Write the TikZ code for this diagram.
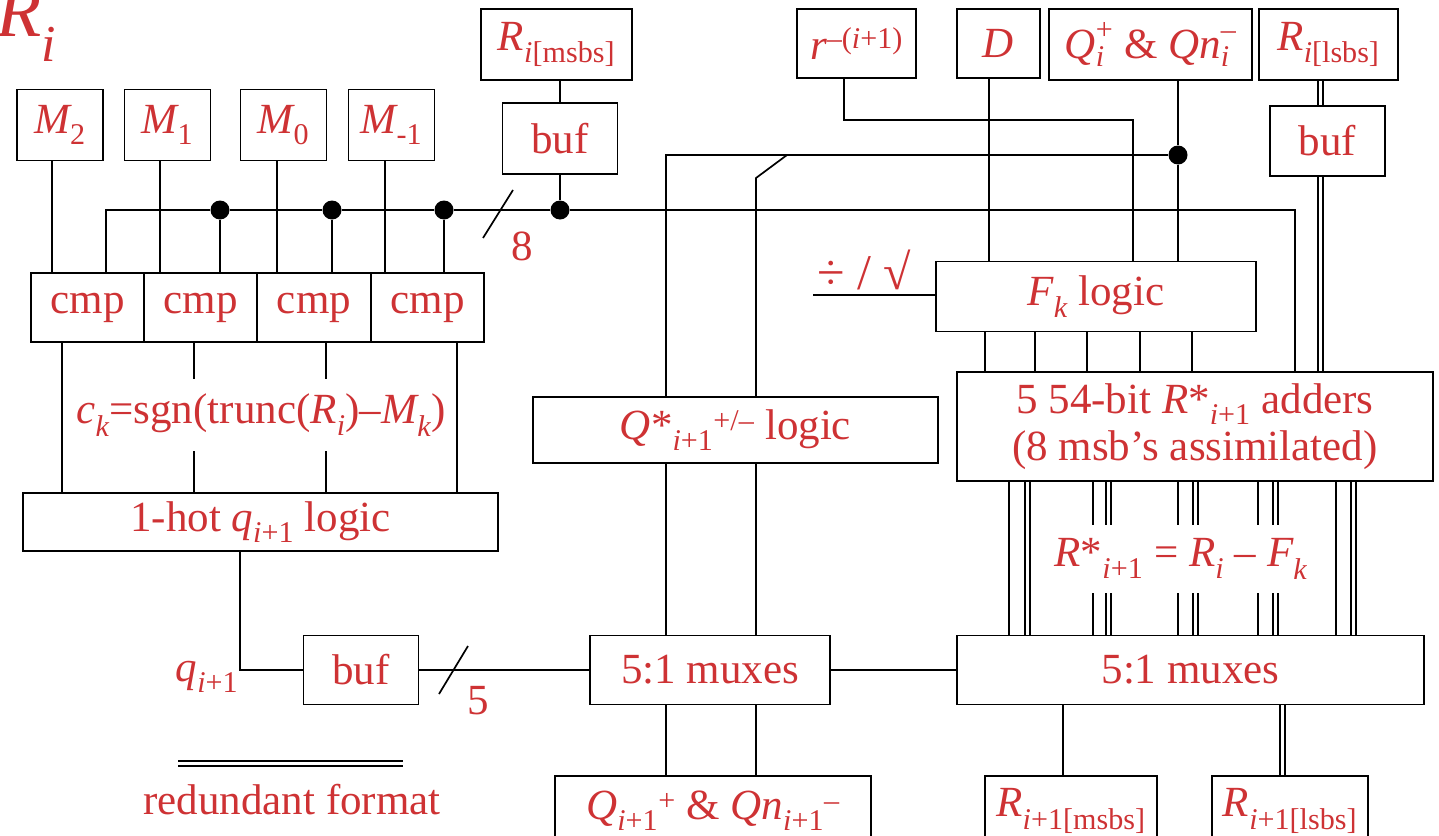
\documentclass[tikz,border=0pt]{standalone}
\usepackage{amsmath}
\usepackage{fontspec}
\setmainfont{Liberation Serif}
\usepackage{xcolor}
\usepackage{tikz}
\usetikzlibrary{positioning, calc}
\definecolor{txtred}{RGB}{206,50,52}
\newcommand{\bigf}{\fontsize{43}{47}\selectfont}
\newcommand{\mv}[1]{\text{\itshape #1}}
\newcommand{\mt}[1]{\text{#1}}

\begin{document}
\begin{tikzpicture}[
    x=1pt, y=-1pt,
    blk/.style={rectangle, draw, line width=1.7pt, text=txtred, font=\bigf, inner sep=0pt, align=center},
    sz/.style 2 args={minimum width=#1pt, minimum height=#2pt},
    lbl/.style={text=txtred, font=\bigf, inner sep=0pt, align=center},
    junc/.style={circle, fill=black, minimum size=19pt, inner sep=0pt},
    wire/.style={line width=1.7pt},
    redund/.style={line width=2pt, double, double distance=3pt}
]
\useasboundingbox (0,0) rectangle (1439,835);
\clip (0,0) rectangle (1439,835);

% inputs
\node[lbl, font=\fontsize{74}{80}\selectfont, anchor=base west] (Ri) at (-4,36) {$\mv{R}_{\mv{i}}$};
\node[blk, sz={86}{71}] (M2) at (60,125) {$\mv{M}_{\mt{2}}$};
\node[blk, sz={86}{71}] (M1) at (167.5,125) {$\mv{M}_{\mt{1}}$};
\node[blk, sz={86}{71}] (M0) at (283.5,125) {$\mv{M}_{\mt{0}}$};
\node[blk, sz={86}{71}] (Mm1) at (391.5,125) {$\mv{M}_{\mt{-1}}$};
\node[blk, sz={151}{71}] (Rmsbs) at (556.5,44.5) {$\mv{R}_{\mv{i}\mt{[msbs]}}$};
\node[blk, sz={115}{71}] (buftop) at (560,138.5) {buf};
\node[blk, sz={119}{69}] (rinv) at (856.5,43.5) {$\mv{r}^{\mt{–(}\mv{i}\mt{+1)}}$};
\node[blk, sz={83}{69}] (D) at (998.5,43.5) {\textit{D}};
\node[blk, sz={203}{71}] (Qin) at (1150.5,44.5) {$\mv{Q}_{\mv{i}}^{\mt{+}}$ \& $\mv{Qn}_{\mv{i}}^{\mt{–}}$};
\node[blk, sz={139}{71}] (Rlsbs) at (1328.5,44.5) {$\mv{R}_{\mv{i}\mt{[lsbs]}}$};
\node[blk, sz={115}{70}] (bufr) at (1327.5,141) {buf};

% quotient selection
\node[blk, sz={113}{69}] (cmp1) at (87.5,307.5) {cmp};
\node[blk, sz={113}{69}] (cmp2) at (200.5,307.5) {cmp};
\node[blk, sz={114}{69}] (cmp3) at (314,307.5) {cmp};
\node[blk, sz={113}{69}] (cmp4) at (427.5,307.5) {cmp};
\node[blk, sz={475}{58}] (onehot) at (260.5,522) {1-hot $\mv{q}_{\mv{i}\mt{+1}}$ logic};
\node[blk, sz={115}{69}] (bufb) at (361,670) {buf};

% datapath
\node[blk, sz={405}{66}] (Qstar) at (735.5,430) {$\mv{Q}\mt{*}_{\mv{i}\mt{+1}}{}^{\mt{+/–}}$ logic};
\node[blk, sz={320}{70}] (Fk) at (1096,296.5) {$\mv{F}_{\mv{k}}$ logic};
\node[blk, sz={476}{109}] (adders) at (1195,426.5) {5 54-bit $\mv{R}\mt{*}_{\mv{i}\mt{+1}}$ adders\\(8 msb’s assimilated)};
\node[blk, sz={240}{69}] (muxm) at (710,670) {5:1 muxes};
\node[blk, sz={467}{69}] (muxr) at (1190.5,670) {5:1 muxes};
\node[blk, sz={316}{70}] (Qout) at (713,811) {$\mv{Q}_{\mv{i}\mt{+1}}{}^{\mt{+}}$ \& $\mv{Qn}_{\mv{i}\mt{+1}}{}^{\mt{–}}$};
\node[blk, sz={172}{70}] (Rmout) at (1071,811) {$\mv{R}_{\mv{i}\mt{+1[msbs]}}$};
\node[blk, sz={156}{70}] (Rlout) at (1290,811) {$\mv{R}_{\mv{i}\mt{+1[lsbs]}}$};

% msb bus
\node[junc] (j1) at (220,210) {};
\node[junc] (j2) at (332,210) {};
\node[junc] (j3) at (444,210) {};
\node[junc] (j4) at (560,210) {};
\coordinate (busL) at (106,210);
\coordinate (busR) at (1295,210);
\draw[wire] (busL |- cmp1.north) -- (busL) -- (j1) -- (j2) -- (j3) -- (j4) -- (busR) -- (busR |- adders.north);
\foreach \j/\c in {j1/cmp2, j2/cmp3, j3/cmp4}
    \draw[wire] (\j) -- (\j |- \c.north);
\foreach \x/\a/\b in {52/M2/cmp1, 160/M1/cmp2, 277/M0/cmp3, 385/Mm1/cmp4}
    \draw[wire] (\x,0 |- \a.south) -- (\x,0 |- \b.north);
\draw[wire] (buftop.north) -- (buftop.north |- Rmsbs.south);
\draw[wire] (buftop.south) -- (j4);
\draw[wire] (483,238) -- (513,190);
\node[lbl] (w8) at (522,246) {8};

% comparator outputs
\foreach \x/\c in {62/cmp1, 194/cmp2, 326/cmp3, 457/cmp4}
    \draw[wire] (\x,0 |- \c.south) -- (\x,0 |- onehot.north);
\node[lbl, fill=white, minimum height=72pt] (ck) at (261,415) {$\mv{c}_{\mv{k}}$=sgn(trunc($\mv{R}_{\mv{i}}$)–$\mv{M}_{\mv{k}}$)};

% q digit
\draw[wire] (240,0 |- onehot.south) |- (bufb.west);
\node[lbl] (qd) at (207,677) {$\mv{q}_{\mv{i}\mt{+1}}$};
\draw[wire] (bufb.east) -- (muxm.west);
\draw[wire] (439,694) -- (468,646);
\node[lbl] (w5) at (478,701) {5};
\draw[wire] (muxm.east) -- (muxr.west);

% Q, Qn
\node[junc] (jq) at (1178,155) {};
\coordinate (qL) at (666,155);
\coordinate (qB) at (787,155);
\coordinate (qK) at (756,178);
\draw[wire] (jq |- Qin.south) -- (jq) -- (jq |- Fk.north);
\draw[wire] (jq) -- (qL) -- (qL |- Qstar.north);
\draw[wire] (qB) -- (qK) -- (qK |- Qstar.north);
\foreach \x in {666,756} {
    \draw[wire] (\x,0 |- Qstar.south) -- (\x,0 |- muxm.north);
    \draw[wire] (\x,0 |- muxm.south) -- (\x,0 |- Qout.north);
}

% r, D, op
\coordinate (rK) at (1133,120);
\draw[wire] (844,0 |- rinv.south) |- (rK) -- (rK |- Fk.north);
\draw[wire] (989,0 |- D.south) -- (989,0 |- Fk.north);
\coordinate (dsL) at (813,295);
\draw[wire] (dsL) -- (dsL -| Fk.west);
\node[lbl, font=\fontsize{50}{54}\selectfont] (ds) at (864,270) {÷ / √};

% F_k to adders
\foreach \x in {985,1035,1087,1140,1192}
    \draw[wire] (\x,0 |- Fk.south) -- (\x,0 |- adders.north);
\draw[redund] (1320,0 |- Rlsbs.south) -- (1320,0 |- bufr.north);
\draw[redund] (1320,0 |- bufr.south) -- (1320,0 |- adders.north);

% adders to muxes
\foreach \x in {1009,1093,1178,1258,1336}
    \draw[wire] (\x,0 |- adders.south) -- (\x,0 |- muxr.north);
\foreach \x in {1027,1108,1195,1275,1353}
    \draw[redund] (\x,0 |- adders.south) -- (\x,0 |- muxr.north);
\node[lbl, fill=white, minimum height=68pt] (rs) at (1181,559) {$\mv{R}\mt{*}_{\mv{i}\mt{+1}}$ = $\mv{R}_{\mv{i}}$ – $\mv{F}_{\mv{k}}$};

% outputs
\draw[wire] (1063,0 |- muxr.south) -- (1063,0 |- Rmout.north);
\draw[redund] (1282,0 |- muxr.south) -- (1282,0 |- Rlout.north);

% legend
\coordinate (lgL) at (178,763);
\coordinate (lgR) at (403,763);
\draw[redund] (lgL) -- (lgR);
\node[lbl] (lg) at (292,800) {redundant format};
\end{tikzpicture}
\end{document}
